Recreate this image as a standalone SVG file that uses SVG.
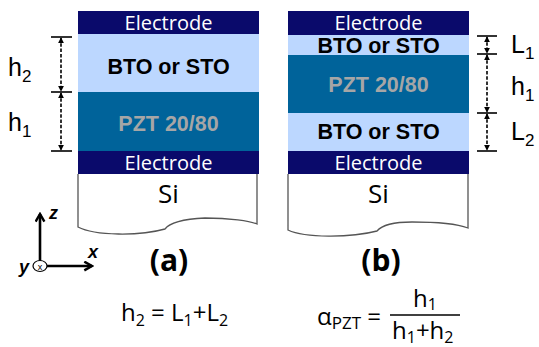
<svg xmlns="http://www.w3.org/2000/svg" width="539" height="347" viewBox="0 0 539 347">
<style>
.el{fill:#0a0a6b}
.bto{fill:#bcd7ff}
.pzt{fill:#00639a}
.si{fill:#fff;stroke:#555;stroke-width:1.3}
.te{font-family:"Open Sans","Liberation Sans",sans-serif;font-size:20px;fill:#fff;text-anchor:middle}
.tb{font-family:"Liberation Sans",Arial,sans-serif;font-weight:bold;font-size:21.5px;fill:#000;text-anchor:middle}
.tp{font-family:"Liberation Sans",Arial,sans-serif;font-weight:bold;font-size:21.5px;fill:#a6a6a6;text-anchor:middle}
.tsi{font-family:"Open Sans","Liberation Sans",sans-serif;font-size:26px;fill:#000;text-anchor:middle}
.lab{font-family:"Liberation Sans",Arial,sans-serif;font-size:25px;fill:#000}
.sub{font-size:17px}
.cap{font-family:"Open Sans","Liberation Sans",sans-serif;font-weight:bold;font-size:30px;fill:#000;text-anchor:middle}
.eq{font-family:"Open Sans","Liberation Sans",sans-serif;font-size:24px;fill:#000}
.es{font-size:16px}
.tick{stroke:#000;stroke-width:1.6}
.dash{stroke:#000;stroke-width:1.6;stroke-dasharray:3.5,1.8;fill:none}
.ax{stroke:#000;stroke-width:2.6;fill:none}
.axl{font-family:"Liberation Sans",Arial,sans-serif;font-weight:bold;font-style:italic;font-size:18px;fill:#000}
</style>
<defs>
<marker id="ah" viewBox="0 0 8 8" refX="7" refY="4" markerWidth="6" markerHeight="6" orient="auto-start-reverse" markerUnits="userSpaceOnUse">
<path d="M0,0 L8,4 L0,8 z" fill="#000"/>
</marker>
<marker id="ax" viewBox="0 0 10 10" refX="8" refY="5" markerWidth="11" markerHeight="11" orient="auto" markerUnits="userSpaceOnUse">
<path d="M1,1 L8,5 L1,9" fill="none" stroke="#000" stroke-width="2.2"/>
</marker>
</defs>

<g id="stack-a">
<path class="si" d="M78,174 L78,227 C95,236 140,236 165,229 C170,222 185,219 205,218 C230,218 250,221 257,224 L257,174"/>
<rect class="el" x="78" y="11" width="181" height="23"/>
<rect class="bto" x="78" y="34" width="181" height="58"/>
<rect class="pzt" x="78" y="92" width="181" height="59"/>
<rect class="el" x="78" y="151" width="181" height="23"/>
<text class="te" x="168.5" y="30">Electrode</text>
<text class="tb" x="168.5" y="74">BTO or STO</text>
<text class="tp" x="168.5" y="131">PZT 20/80</text>
<text class="te" x="168.5" y="170">Electrode</text>
<text class="tsi" x="168.5" y="203">Si</text>
</g>

<g id="stack-b">
<path class="si" d="M288,174 L288,230 C305,238 350,238 377,231 C382,225 395,222 412,222 C440,222 460,225 468,228 L468,174"/>
<rect class="el" x="288" y="11" width="181" height="24"/>
<rect class="bto" x="288" y="35" width="181" height="20"/>
<rect class="pzt" x="288" y="55" width="181" height="58"/>
<rect class="bto" x="288" y="113" width="181" height="38"/>
<rect class="el" x="288" y="151" width="181" height="23"/>
<text class="te" x="378.5" y="30">Electrode</text>
<text class="tb" x="378.5" y="52.5">BTO or STO</text>
<text class="tp" x="378.5" y="92">PZT 20/80</text>
<text class="tb" x="378.5" y="139">BTO or STO</text>
<text class="te" x="378.5" y="170">Electrode</text>
<text class="tsi" x="378.5" y="203">Si</text>
</g>

<g id="connectors">
<line class="tick" x1="51" y1="37" x2="72" y2="37"/>
<line class="tick" x1="51" y1="92" x2="72" y2="92"/>
<line class="tick" x1="51" y1="151" x2="72" y2="151"/>
<line class="dash" x1="61" y1="38" x2="61" y2="91" marker-start="url(#ah)" marker-end="url(#ah)"/>
<line class="dash" x1="61" y1="93" x2="61" y2="150" marker-start="url(#ah)" marker-end="url(#ah)"/>
<line class="tick" x1="477" y1="36" x2="497" y2="36"/>
<line class="tick" x1="477" y1="54" x2="497" y2="54"/>
<line class="tick" x1="477" y1="113" x2="497" y2="113"/>
<line class="tick" x1="477" y1="151" x2="497" y2="151"/>
<line class="dash" x1="487" y1="37" x2="487" y2="53" marker-start="url(#ah)" marker-end="url(#ah)"/>
<line class="dash" x1="487" y1="55" x2="487" y2="112" marker-start="url(#ah)" marker-end="url(#ah)"/>
<line class="dash" x1="487" y1="114" x2="487" y2="150" marker-start="url(#ah)" marker-end="url(#ah)"/>
</g>

<g id="labels">
<text class="lab" x="8" y="76">h<tspan class="sub" dy="6">2</tspan></text>
<text class="lab" x="8" y="131">h<tspan class="sub" dy="6">1</tspan></text>
<text class="lab" x="511" y="53">L<tspan class="sub" dy="6">1</tspan></text>
<text class="lab" x="511" y="95">h<tspan class="sub" dy="6">1</tspan></text>
<text class="lab" x="511" y="140">L<tspan class="sub" dy="6">2</tspan></text>
</g>

<g id="axes">
<line class="ax" x1="40" y1="261" x2="40" y2="214" marker-end="url(#ax)"/>
<line class="ax" x1="47" y1="266" x2="92" y2="266" marker-end="url(#ax)"/>
<ellipse cx="40" cy="266" rx="7" ry="5.5" fill="#fff" stroke="#000" stroke-width="1.2"/>
<text x="40" y="269.5" font-family="Liberation Sans,Arial,sans-serif" font-size="9" text-anchor="middle">x</text>
<text class="axl" x="49" y="219">z</text>
<text class="axl" x="88" y="258">x</text>
<text class="axl" x="19" y="273">y</text>
</g>

<g id="captions">
<text class="cap" x="169" y="271">(a)</text>
<text class="cap" x="381" y="271">(b)</text>
<text class="eq" x="121" y="321">h<tspan class="es" dy="5">2</tspan><tspan dy="-5"> = L</tspan><tspan class="es" dy="5">1</tspan><tspan dy="-5">+L</tspan><tspan class="es" dy="5">2</tspan></text>
<text class="eq" x="317" y="325" font-size="30">α<tspan font-size="17" dy="4">PZT</tspan><tspan dy="-4" font-size="24"> =</tspan></text>
<line x1="390" y1="315" x2="460" y2="315" stroke="#000" stroke-width="1.6"/>
<text class="eq" x="413" y="307">h<tspan class="es" dy="3">1</tspan></text>
<text class="eq" x="392" y="339">h<tspan class="es" dy="4">1</tspan><tspan dy="-4">+h</tspan><tspan class="es" dy="4">2</tspan></text>
</g>
</svg>
